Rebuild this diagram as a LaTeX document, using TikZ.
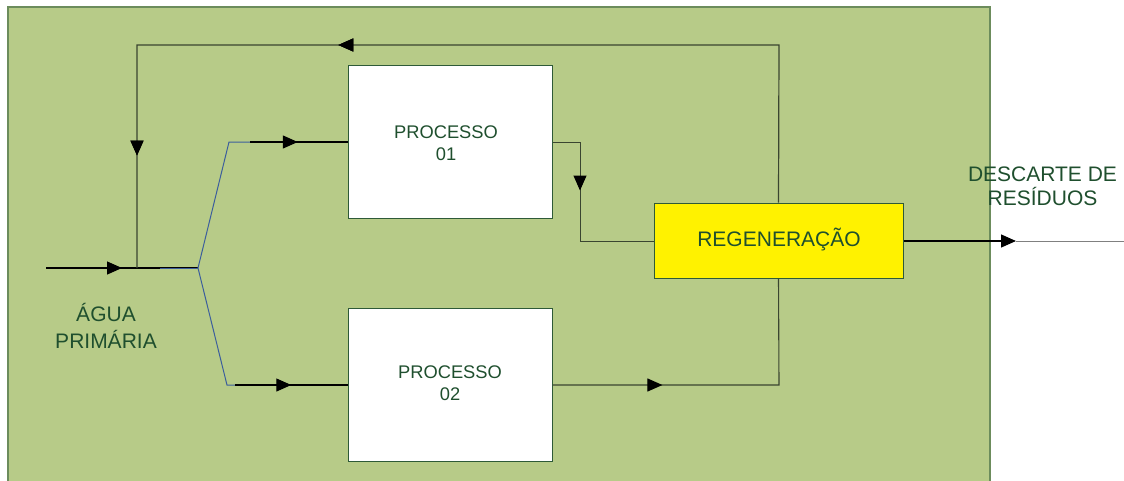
\documentclass[tikz,border=0pt]{standalone}
\usepackage{fontspec}
\setmainfont{Liberation Sans}
\usetikzlibrary{arrows.meta,decorations.markings}
\definecolor{bggreen}{HTML}{B7CB88}
\definecolor{bgborder}{HTML}{6C8C5C}
\definecolor{txtgreen}{HTML}{1F4F2E}
\definecolor{boxborder}{HTML}{2E5A38}
\definecolor{splitblue}{HTML}{3C5E9C}
\definecolor{darkline}{HTML}{3A4530}
\tikzset{
  tri/.tip={Triangle[length=15pt,width=13pt]},
  arrowat/.style={postaction={decorate},decoration={markings,mark=at position #1 with {\arrow[black]{tri}}}},
  procbox/.style={draw=boxborder,line width=1pt,fill=white,minimum width=204pt,minimum height=153pt,inner sep=0pt},
  regbox/.style={draw=boxborder,line width=1pt,fill=yellow,minimum width=249pt,minimum height=75pt,inner sep=0pt},
  lbl/.style={text=txtgreen,align=center,inner sep=0pt},
  flow/.style={draw=black,line width=1.3pt},
  thinflow/.style={draw=darkline,line width=1.2pt},
  bluel/.style={draw=splitblue,line width=1pt},
}
\begin{document}
\begin{tikzpicture}[x=1pt,y=-1pt]
\useasboundingbox (0,0) rectangle (1124,480);
\fill[white] (0,0) rectangle (1124,480);
\draw[bgborder,line width=1.5pt,fill=bggreen] (8,7) rectangle (990,490);

% boxes
\node[procbox] (P1) at (450,141.5) {};
\node[procbox] (P2) at (450,385) {};
\node[regbox] (R) at (778.5,240.5) {};

\node[lbl,font=\fontsize{18.3}{22.6}\selectfont] (t1) at (446,143) {PROCESSO\\01};
\node[lbl,font=\fontsize{18.3}{22.6}\selectfont] (t2) at (450,383) {PROCESSO\\02};
\node[lbl,font=\fontsize{21}{25}\selectfont,anchor=base] (tr) at (779,246.7) {REGENERAÇÃO};
\node[lbl,font=\fontsize{21}{26.7}\selectfont] (ta) at (106,326) {ÁGUA\\PRIMÁRIA};
\node[lbl,font=\fontsize{21}{24.3}\selectfont] (td) at (1042.5,186) {DESCARTE DE\\RESÍDUOS};

% coordinates
\coordinate (in0) at (46,268);
\coordinate (j1) at (137,268);
\coordinate (sp) at (198,268);
\coordinate (sb) at (160,268);
\coordinate (u1) at (229,142);
\coordinate (u2) at (250,142);
\coordinate (l1) at (227,385);
\coordinate (l2) at (235,385);
\coordinate (fbR) at (779,45);
\coordinate (fbL) at (137,45);
\coordinate (c1) at (580,142);
\coordinate (c2) at (580,241);
\coordinate (c3) at (779,385);
\coordinate (outTip) at (1016,241);
\coordinate (outEnd) at (1124,241);

% input
\draw[flow,arrowat=0.5] (in0) -- (sp);
\draw[bluel] (sb) -- (sp);
% split
\draw[bluel] (u2) -- (u1) -- (sp) -- (l1) -- (l2);
\draw[flow,arrowat=0.49] (u2) -- (P1.west |- u2);
\draw[flow,arrowat=0.50] (l2) -- (P2.west |- l2);
% feedback loop
\draw[thinflow,arrowat=0.585,arrowat=0.89] (R.north) -- (fbR) -- (fbL) -- (j1);
% process 01 -> regen
\draw[thinflow,line width=1pt,arrowat=0.38] (P1.east |- c1) -- (c1) -- (c2) -- (R.west |- c2);
% process 02 -> regen
\draw[thinflow,line width=1.1pt,arrowat=0.33] (P2.east |- c3) -- (c3) -- (R.south);
% output
\draw[flow,-tri] (R.east |- outTip) -- (outTip);
\draw[gray,line width=1pt] (outTip) -- (outEnd);
\end{tikzpicture}
\end{document}
